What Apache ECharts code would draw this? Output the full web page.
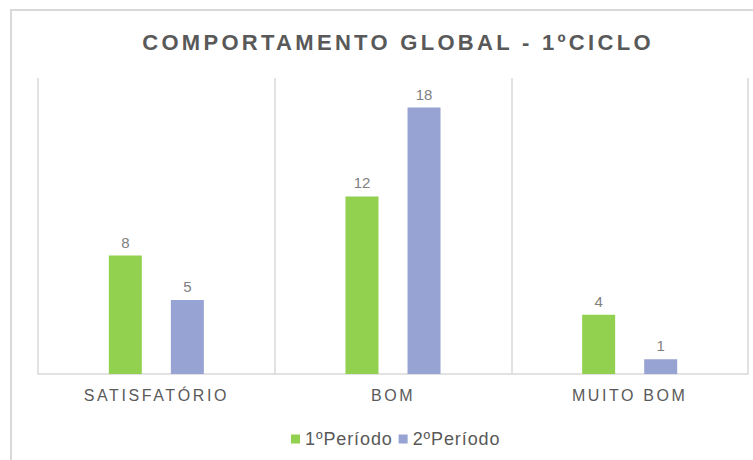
<!DOCTYPE html>
<html>
<head>
<meta charset="utf-8">
<script src="https://cdn.jsdelivr.net/npm/echarts@6/dist/echarts.min.js"></script>
<style>
  html, body { margin: 0; padding: 0; background: #fff; }
  #chart { width: 753px; height: 460px; }
  /* espaçamento entre letras: título, rótulos do eixo e legenda */
  #chart text[fill="#595959"] { letter-spacing: 3.3px; }
  #chart text[fill="#5a5a5a"] { letter-spacing: 2.6px; }
  #chart text[fill="#595958"] { letter-spacing: 0.9px; }
</style>
</head>
<body>
<div id="chart"></div>
<script>
const categories = ['SATISFATÓRIO', 'BOM', 'MUITO BOM']
const seriesNames = ['1ºPeríodo', '2ºPeríodo']
const periodo1 = [8, 12, 4]
const periodo2 = [5, 18, 1]

const myChart = echarts.init(document.getElementById('chart'), null, { renderer: 'svg' })

const labelStyle = {
  show: true,
  position: 'top',
  color: '#7f7f7f',
  fontSize: 15,
  fontFamily: 'Liberation Sans, Arial, sans-serif',
  distance: 6
}

const option = {
  animation: false,
  backgroundColor: '#fff',
  //moldura exterior
  graphic: [
    {
      type: 'rect',
      shape: { x: 11, y: 10, width: 800, height: 520 },
      style: { fill: 'none', stroke: '#d9d9d9', lineWidth: 2 },
      silent: true
    }
  ],
  title: {
    text: 'COMPORTAMENTO GLOBAL - 1ºCICLO',
    left: 393,
    top: 26,
    textAlign: 'center',
    textStyle: {
      color: '#595959',
      fontSize: 22,
      fontWeight: 'bold',
      fontFamily: 'Liberation Sans, Arial, sans-serif'
    }
  },
  legend: {
    data: seriesNames,
    top: 425,
    left: 286,
    icon: 'rect',
    itemWidth: 9,
    itemHeight: 9,
    itemGap: 14,
    textStyle: {
      color: '#595958',
      fontSize: 18,
      fontFamily: 'Liberation Sans, Arial, sans-serif'
    }
  },
  grid: {
    left: 38,
    right: 5,
    top: 78,
    bottom: 86,
    containLabel: false
  },
  xAxis: {
    type: 'category',
    data: categories,
    axisLine: { lineStyle: { color: '#d9d9d9', width: 1.5 } },
    axisTick: { show: false },
    splitLine: { show: true, lineStyle: { color: '#d9d9d9', width: 1.5 } },
    axisLabel: {
      color: '#5a5a5a',
      fontSize: 16,
      margin: 13,
      fontFamily: 'Liberation Sans, Arial, sans-serif'
    }
  },
  yAxis: {
    type: 'value',
    min: 0,
    max: 20,
    show: false
  },
  series: [
    {
      name: seriesNames[0],
      type: 'bar',
      data: periodo1,
      barWidth: 33,
      barGap: '88%',
      itemStyle: { color: '#92d050' },
      label: labelStyle
    },
    {
      name: seriesNames[1],
      type: 'bar',
      data: periodo2,
      barWidth: 33,
      barGap: '88%',
      itemStyle: { color: '#97a3d3' },
      label: labelStyle
    }
  ]
}

option && myChart.setOption(option)
</script>
</body>
</html>
